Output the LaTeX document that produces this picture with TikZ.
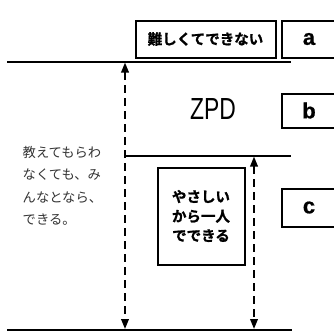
\documentclass[tikz,border=0pt]{standalone}
\usepackage{fontspec}
\setmainfont{Liberation Sans}
\newfontfamily\jp{Noto Sans CJK JP}
\newfontfamily\jpb{Noto Sans CJK JP Bold}[FakeBold=1.2]
\newfontfamily\lsb{Liberation Sans Bold}[FakeBold=0.8]
\usetikzlibrary{arrows.meta}
\tikzset{
  box/.style={draw=black, line width=2pt, fill=white, inner sep=0pt},
  letter/.style={box, minimum width=55pt, font=\fontsize{22}{22}\selectfont\lsb},
  level/.style={line width=1.5pt},
  ground/.style={line width=2.6pt},
  span/.style={line width=2pt, dash pattern=on 8pt off 5pt,
    {Triangle[length=10pt,width=7.5pt]}-{Triangle[length=10pt,width=7.5pt]}},
}
\begin{document}
\begin{tikzpicture}[x=1pt,y=-1pt]
\clip (0,0) rectangle (334,332);
\fill[white] (0,0) rectangle (334,332);
% levels
\coordinate (t1) at (7,62); \coordinate (t2) at (291,62);
\coordinate (m1) at (124,156); \coordinate (m2) at (291,156);
\coordinate (g1) at (7,330); \coordinate (g2) at (292,330);
\draw[level] (t1) -- (t2);
\draw[level] (m1) -- (m2);
\draw[ground] (g1) -- (g2);
% arrows
\coordinate (la1) at (125,62.5); \coordinate (la2) at (125,329);
\coordinate (ra1) at (254,156.5); \coordinate (ra2) at (254,329);
\draw[span] (la1) -- (la2);
\draw[span] (ra1) -- (ra2);
% boxes
\node[box, minimum width=140pt, minimum height=37pt] (hard) at (205.5,39)
  {\fontsize{14.5}{14.5}\selectfont\jpb 難しくてできない};
\node[letter, minimum height=37pt] (a) at (309,39) {a};
\node[letter, minimum height=34pt] (b) at (309,110.5) {b};
\node[letter, minimum height=38pt] (c) at (309,207.5) {c};
\node[box, minimum width=87pt, minimum height=97pt, align=center,
  font=\fontsize{14.5}{19.5}\selectfont\jpb] (easy) at (201,216)
  {やさしい\\から一人\\でできる};
\node (zpd) at (213,109) {\fontsize{30.5}{30.5}\selectfont\scalebox{0.75}[1]{ZPD}};
\node[anchor=north west, inner sep=0pt, align=left, text=black!80,
  font=\fontsize{13.3}{22.5}\selectfont\jp] (note) at (22.5,146)
  {教えてもらわ\\なくても、み\\んなとなら、\\できる。};
\end{tikzpicture}
\end{document}
